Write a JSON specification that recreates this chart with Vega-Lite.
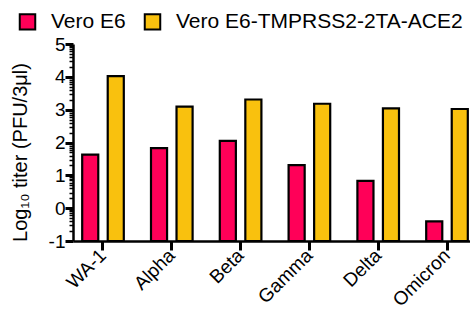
{
  "$schema": "https://vega.github.io/schema/vega-lite/v6.json",
  "width": 404,
  "height": 197,
  "autosize": {"type": "none"},
  "padding": {"left": 73, "top": 44, "right": 0, "bottom": 79},
  "background": "white",
  "config": {
    "view": {"stroke": null},
    "font": "Liberation Sans",
    "axis": {"domainColor": "black", "tickColor": "black", "labelColor": "black", "titleColor": "black", "grid": false}
  },
  "data": {
    "values": [
      {"variant": "WA-1", "cell": "Vero E6", "titer": 1.63},
      {"variant": "WA-1", "cell": "Vero E6-TMPRSS2-2TA-ACE2", "titer": 4.02},
      {"variant": "Alpha", "cell": "Vero E6", "titer": 1.83},
      {"variant": "Alpha", "cell": "Vero E6-TMPRSS2-2TA-ACE2", "titer": 3.09},
      {"variant": "Beta", "cell": "Vero E6", "titer": 2.05},
      {"variant": "Beta", "cell": "Vero E6-TMPRSS2-2TA-ACE2", "titer": 3.31},
      {"variant": "Gamma", "cell": "Vero E6", "titer": 1.31},
      {"variant": "Gamma", "cell": "Vero E6-TMPRSS2-2TA-ACE2", "titer": 3.18},
      {"variant": "Delta", "cell": "Vero E6", "titer": 0.83},
      {"variant": "Delta", "cell": "Vero E6-TMPRSS2-2TA-ACE2", "titer": 3.04},
      {"variant": "Omicron", "cell": "Vero E6", "titer": -0.4},
      {"variant": "Omicron", "cell": "Vero E6-TMPRSS2-2TA-ACE2", "titer": 3.02}
    ]
  },
  "encoding": {
    "x": {
      "field": "variant",
      "type": "nominal",
      "sort": ["WA-1", "Alpha", "Beta", "Gamma", "Delta", "Omicron"],
      "scale": {"paddingInner": 0.128, "paddingOuter": 0},
      "axis": {
        "title": null,
        "labelAngle": -45,
        "labelAlign": "right",
        "labelBaseline": "middle",
        "labelFontSize": 19,
        "labelPadding": 2,
        "tickSize": 9,
        "tickWidth": 3,
        "domainWidth": 2.5,
        "tickBand": "center"
      }
    },
    "xOffset": {
      "field": "cell",
      "type": "nominal",
      "scale": {"paddingInner": 0.37, "paddingOuter": 0.36}
    },
    "y2": {"datum": -1},
    "color": {
      "field": "cell",
      "type": "nominal",
      "scale": {"domain": ["Vero E6", "Vero E6-TMPRSS2-2TA-ACE2"], "range": ["#FF0058", "#F9C10E"]},
      "legend": {
        "title": null,
        "orient": "none",
        "direction": "horizontal",
        "legendX": -56,
        "legendY": -33,
        "symbolType": "square",
        "symbolSize": 240,
        "symbolStrokeColor": "black",
        "symbolStrokeWidth": 2,
        "labelFontSize": 21,
        "labelLimit": 400,
        "labelColor": "black",
        "labelOffset": 13,
        "columnPadding": 14
      }
    }
  },
  "layer": [
    {
      "mark": {"type": "bar", "stroke": "black", "strokeWidth": 2.2, "opacity": 0},
      "encoding": {
        "y": {
          "field": "titer",
          "type": "quantitative",
          "scale": {"domain": [-1, 5], "nice": false, "zero": false},
          "axis": {
            "orient": "left",
            "offset": 0,
            "title": null,
            "labels": false,
            "domain": false,
            "tickSize": 4,
            "tickWidth": 1.5,
            "values": [-0.699, -0.523, -0.398, -0.301, -0.222, -0.155, -0.097, -0.046,
                       0.301, 0.477, 0.602, 0.699, 0.778, 0.845, 0.903, 0.954,
                       1.301, 1.477, 1.602, 1.699, 1.778, 1.845, 1.903, 1.954,
                       2.301, 2.477, 2.602, 2.699, 2.778, 2.845, 2.903, 2.954,
                       3.301, 3.477, 3.602, 3.699, 3.778, 3.845, 3.903, 3.954,
                       4.301, 4.477, 4.602, 4.699, 4.778, 4.845, 4.903, 4.954]
          }
        }
      }
    },
    {
      "mark": {"type": "bar", "stroke": "black", "strokeWidth": 2.2},
      "encoding": {
        "y": {
          "field": "titer",
          "type": "quantitative",
          "scale": {"domain": [-1, 5], "nice": false, "zero": false},
          "axis": {
            "orient": "left",
            "offset": 0,
            "title": "Log₁₀ titer (PFU/3μl)",
            "titleFontSize": 20,
            "titleFontWeight": "normal",
            "titlePadding": 18,
            "titleY": 108,
            "labelFontSize": 19,
            "labelPadding": 0,
            "domainWidth": 2.5,
            "tickWidth": 3,
            "tickSize": 8,
            "labelExpr": "'' + datum.value",
            "values": [-1, 0, 1, 2, 3, 4, 5]
          }
        }
      }
    }
  ],
  "resolve": {"axis": {"y": "independent"}}
}
